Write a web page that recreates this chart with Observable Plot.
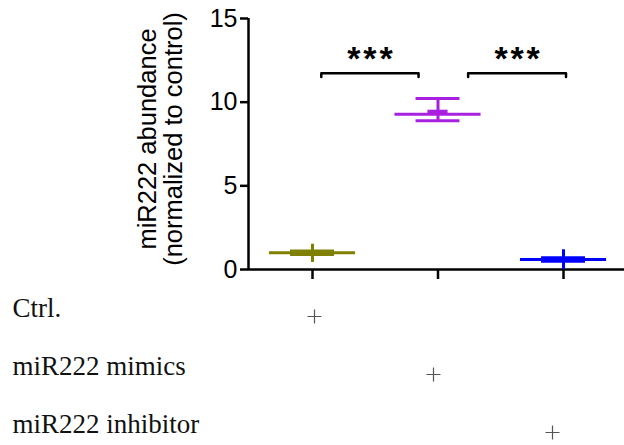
<!DOCTYPE html>
<html><head><meta charset="utf-8">
<script src="https://cdn.jsdelivr.net/npm/d3@7"></script>
<script src="https://cdn.jsdelivr.net/npm/@observablehq/plot@0.6"></script>
<style>body{margin:0;background:#fff} svg{display:block}</style>
</head><body><div id="chart"></div>
<script>
// ---- data ----
const groups = ["Ctrl.", "miR222 mimics", "miR222 inhibitor"];
const groupPos = [1, 2, 3];
const means = [1.0, 9.28, 0.60];
const capLow = [0.89, 8.89, 0.50];
const capHigh = [1.11, 10.22, 0.70];
const whiskerLow = [0.42, 8.89, 0.0];
const whiskerHigh = [1.51, 10.22, 1.18];
const centerMarks = [1.0, 9.43, 0.60];
const colors = ["#808000", "#a820e0", "#0000ff"];
const yTicks = [0, 5, 10, 15];
const yLabel = "miR222 abundance\n(normalized to control)";
const sigFrom = [1.07, 2.24];
const sigTo = [1.845, 3.02];
const sigLevel = [11.73, 11.73];
const sigText = ["***", "***"];

// ---- build tables ----
const data = groups.map((g, i) => ({
  group: g, pos: groupPos[i], mean: means[i], capLo: capLow[i], capHi: capHigh[i],
  lo: whiskerLow[i], hi: whiskerHigh[i], center: centerMarks[i], color: colors[i]
}));
const brackets = sigText.map((t, i) => ({id: i, from: sigFrom[i], to: sigTo[i], y: sigLevel[i], text: t}));
const bracketPts = brackets.flatMap(b => [
  {id: b.id, x: b.from, y: b.y - 0.23},
  {id: b.id, x: b.from, y: b.y},
  {id: b.id, x: b.to, y: b.y},
  {id: b.id, x: b.to, y: b.y - 0.23}
]);

const xDomain = [0.49, 3.486];
const meanHalf = 0.343, capHalf = 0.175, centerHalf = 0.08;

const main = Plot.plot({
  width: 624, height: 290,
  marginLeft: 248, marginRight: 0, marginTop: 18, marginBottom: 21,
  style: {fontFamily: "'Liberation Sans', Arial, sans-serif", color: "#000", background: "#fff"},
  x: {domain: xDomain},
  y: {domain: [0, 15]},
  color: {type: "identity"},
  marks: [
    Plot.axisY({ticks: yTicks, tickSize: 8, tickPadding: 3, fontSize: 25, strokeWidth: 2.5, label: null, tickFormat: d3.format("d")}),
    Plot.axisX({ticks: groupPos, tickSize: 10, strokeWidth: 2.5, label: null, tickFormat: () => ""}),
    Plot.ruleY([0], {strokeWidth: 2.5}),
    Plot.ruleX([xDomain[0]], {strokeWidth: 2.5}),
    Plot.ruleX(data, {x: "pos", y1: "lo", y2: "hi", stroke: "color", strokeWidth: 3}),
    Plot.ruleY(data, {y: "mean", x1: d => d.pos - meanHalf, x2: d => d.pos + meanHalf, stroke: "color", strokeWidth: 3}),
    Plot.ruleY(data, {y: "capLo", x1: d => d.pos - capHalf, x2: d => d.pos + capHalf, stroke: "color", strokeWidth: 3}),
    Plot.ruleY(data, {y: "capHi", x1: d => d.pos - capHalf, x2: d => d.pos + capHalf, stroke: "color", strokeWidth: 3}),
    Plot.ruleY(data, {y: "center", x1: d => d.pos - centerHalf, x2: d => d.pos + centerHalf, stroke: "color", strokeWidth: 4}),
    Plot.line(bracketPts, {x: "x", y: "y", z: "id", stroke: "#000", strokeWidth: 2.5, strokeLinejoin: "round", strokeLinecap: "round", curve: "linear"}),
    Plot.text(brackets, {x: d => (d.from + d.to) / 2, y: "y", text: d => d.text.split("").join("\u200A"), fontSize: 34, fontWeight: "bold", dy: -14.5, lineAnchor: "middle", fill: "#000"}),
    Plot.text([yLabel], {frameAnchor: "left", rotate: -90, dx: -88, dy: -5, fontSize: 25.5, lineHeight: 1.02, textAnchor: "middle", lineAnchor: "middle", fill: "#000"})
  ]
});

const plusSymbol = {
  draw(ctx, size) {
    const r = Math.sqrt(size / Math.PI);
    ctx.moveTo(-r, 0); ctx.lineTo(r, 0);
    ctx.moveTo(0, -r); ctx.lineTo(0, r);
  }
};

const table = Plot.plot({
  width: 624, height: 155, margin: 0,
  style: {fontFamily: "'Liberation Serif', serif", color: "#000", background: "#fff"},
  x: {type: "point", domain: groups, range: [314, 552], padding: 0, axis: null},
  y: {type: "point", domain: groups, range: [26, 142], padding: 0, axis: null},
  marks: [
    Plot.text(groups, {y: d => d, text: d => d, frameAnchor: "left", dx: 12, textAnchor: "start", fontSize: 27, lineAnchor: "middle", dy: -8.6, fill: "#111"}),
    Plot.dot(groups, {x: d => d, y: d => d, symbol: plusSymbol, r: 7, fill: "none", stroke: "#555", strokeWidth: 1.2})
  ]
});

document.getElementById("chart").append(main, table);
</script>
</body></html>
